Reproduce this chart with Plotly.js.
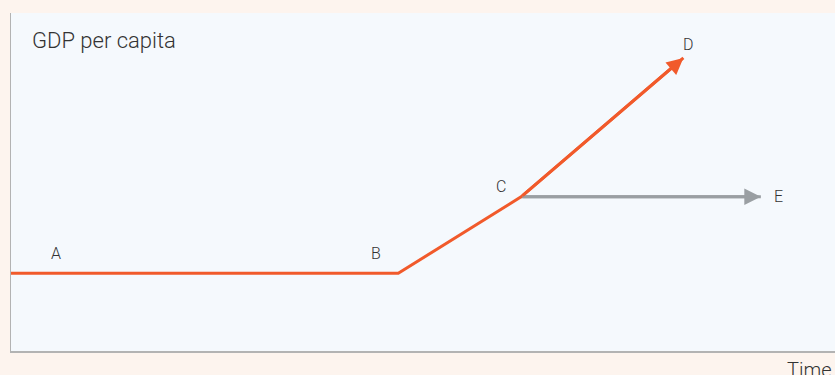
<!DOCTYPE html>
<html>
<head>
<meta charset="utf-8">
<script src="https://cdn.plot.ly/plotly-3.0.1.min.js"></script>
<style>
  html, body { margin: 0; padding: 0; background: #fdf4ee; }
  #chart { width: 835px; height: 375px; }
</style>
</head>
<body>
<div id="chart"></div>
<script>
// Stylised growth path: time on x, GDP per capita on y (arbitrary units 0-100)
const pathTime = [0, 47.0, 61.9];
const pathGdp = [23, 23, 45.6];

// branches out of point C
const branchD = { time: 81.6, gdp: 86.7 };
const branchE = { time: 91.0, gdp: 45.6 };

const pointNames = ['A', 'B', 'C', 'D', 'E'];
const labelTime = [5.5, 44.3, 59.5, 82.2, 93.2];
const labelGdp = [28.7, 28.7, 48.8, 90.8, 45.6];

const orange = '#f15a2b';
const grey = '#9a9fa3';
const textColor = '#333333';

const cTime = pathTime[pathTime.length - 1];
const cGdp = pathGdp[pathGdp.length - 1];

// grey branch C -> E sits under the orange path
const greyTrace = {
    x: [cTime, branchE.time],
    y: [cGdp, branchE.gdp],
    mode: 'lines',
    type: 'scatter',
    line: { color: grey, width: 3 },
    hoverinfo: 'skip'
};

const orangeTrace = {
    x: pathTime.concat([branchD.time]),
    y: pathGdp.concat([branchD.gdp]),
    mode: 'lines',
    type: 'scatter',
    line: { color: orange, width: 3 },
    hoverinfo: 'skip'
};

// arrow heads at the branch ends, in data coordinates
function arrow(tip, color) {
    return {
        x: tip.time, y: tip.gdp, xref: 'x', yref: 'y',
        ax: cTime, ay: cGdp, axref: 'x', ayref: 'y',
        showarrow: true, arrowhead: 2, arrowsize: 1.1,
        arrowwidth: 3, arrowcolor: color, text: ''
    };
}

const annotations = [arrow(branchE, grey), arrow(branchD, orange)];

pointNames.forEach(function (name, i) {
    annotations.push({
        x: labelTime[i], y: labelGdp[i], xref: 'x', yref: 'y',
        text: name, showarrow: false,
        font: { family: 'Roboto', size: 16, color: textColor, weight: 300 }
    });
});

annotations.push({
    x: 0, y: 1, xref: 'paper', yref: 'paper',
    xshift: 19, yshift: -27,
    xanchor: 'left', yanchor: 'middle',
    text: 'GDP per capita', showarrow: false,
    font: { family: 'Roboto', size: 22, color: textColor, weight: 300 }
});

annotations.push({
    x: 1, y: 0, xref: 'paper', yref: 'paper',
    xshift: -1, yshift: -19,
    xanchor: 'right', yanchor: 'middle',
    text: 'Time', showarrow: false,
    font: { family: 'Roboto', size: 20, color: textColor, weight: 300 }
});

const layout = {
    width: 835,
    height: 375,
    margin: { l: 11, r: 0, t: 13, b: 24 },
    paper_bgcolor: '#fdf4ee',
    plot_bgcolor: '#f5f9fd',
    showlegend: false,
    xaxis: {
        range: [0, 100], showgrid: false, zeroline: false,
        showticklabels: false, ticks: '', showline: true,
        linecolor: '#b3b3b3', linewidth: 1.5, fixedrange: true
    },
    yaxis: {
        range: [0, 100], showgrid: false, zeroline: false,
        showticklabels: false, ticks: '', showline: true,
        linecolor: '#b3b3b3', linewidth: 1.5, fixedrange: true
    },
    annotations: annotations
};

Plotly.newPlot('chart', [greyTrace, orangeTrace], layout, { displayModeBar: false, staticPlot: true });
</script>
</body>
</html>
